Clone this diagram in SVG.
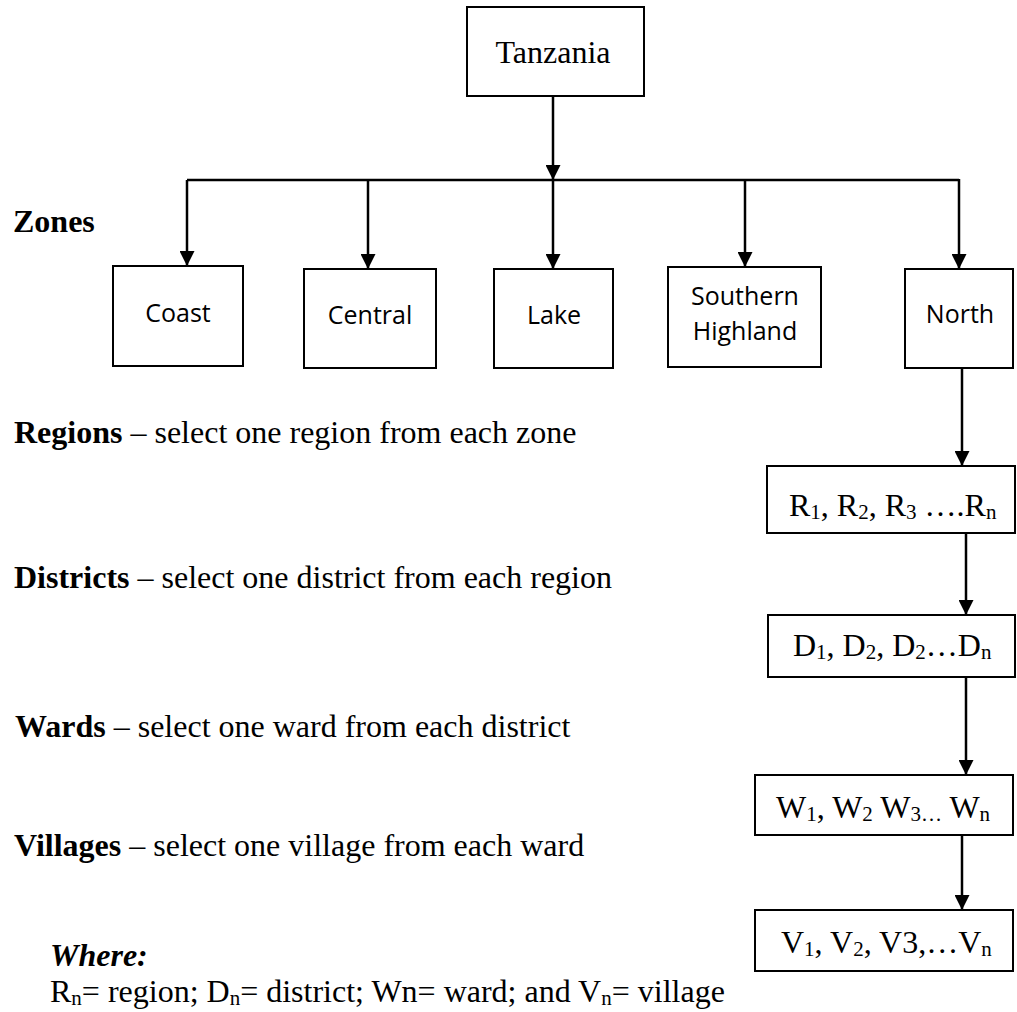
<svg xmlns="http://www.w3.org/2000/svg" width="1017" height="1012" viewBox="0 0 1017 1012">
<defs>
<marker id="ah" markerUnits="userSpaceOnUse" markerWidth="15" markerHeight="15" refX="15" refY="7.5" orient="auto" viewBox="0 0 15 15">
<path d="M0,0 L15,7.5 L0,15 Z" fill="#000"/>
</marker>
<style>
.box{fill:#fff;stroke:#000;stroke-width:2}
.ser{font-family:"Liberation Serif","Times New Roman",serif;font-size:32px;fill:#000}
.lbl{font-family:"Liberation Serif","Times New Roman",serif;font-size:32px;fill:#000}
.san{font-family:"Open Sans","Liberation Sans",sans-serif;font-size:25px;fill:#000;text-anchor:middle}
.con{stroke:#000;stroke-width:2.5;fill:none}
.arr{stroke:#000;stroke-width:2.5;fill:none;marker-end:url(#ah)}
</style>
</defs>
<rect width="1017" height="1012" fill="#fff"/>

<g id="connectors">
<line class="arr" x1="553" y1="96" x2="553" y2="180"/>
<line class="con" x1="187" y1="180" x2="959" y2="180"/>
<line class="arr" x1="187" y1="180" x2="187" y2="266"/>
<line class="arr" x1="368" y1="180" x2="368" y2="269"/>
<line class="arr" x1="553" y1="180" x2="553" y2="269"/>
<line class="arr" x1="745" y1="180" x2="745" y2="267"/>
<line class="arr" x1="959" y1="179" x2="959" y2="269"/>
<line class="arr" x1="962" y1="368" x2="962" y2="466"/>
<line class="arr" x1="966" y1="533" x2="966" y2="615"/>
<line class="arr" x1="966" y1="677" x2="966" y2="775"/>
<line class="arr" x1="962" y1="835" x2="962" y2="910"/>
</g>

<g id="tanzania">
<rect class="box" x="467" y="7" width="177" height="89"/>
<text class="ser" x="553" y="63" text-anchor="middle">Tanzania</text>
</g>

<g id="coast">
<rect class="box" x="113" y="266" width="130" height="100"/>
<text class="san" x="178" y="322">Coast</text>
</g>
<g id="central">
<rect class="box" x="304" y="269" width="132" height="99"/>
<text class="san" x="370" y="324">Central</text>
</g>
<g id="lake">
<rect class="box" x="494" y="269" width="119" height="99"/>
<text class="san" x="554" y="324">Lake</text>
</g>
<g id="southern-highland">
<rect class="box" x="668" y="267" width="153" height="100"/>
<text class="san" x="745" y="305">Southern</text>
<text class="san" x="745" y="340">Highland</text>
</g>
<g id="north">
<rect class="box" x="905" y="269" width="108" height="99"/>
<text class="san" x="960" y="323">North</text>
</g>

<g id="regions-box">
<rect class="box" x="767" y="466" width="248" height="67"/>
<text class="ser" x="789" y="516">R<tspan font-size="21" dy="3">1</tspan><tspan dy="-3">, R</tspan><tspan font-size="21" dy="3">2</tspan><tspan dy="-3">, R</tspan><tspan font-size="21" dy="3">3</tspan><tspan dy="-3"> ….R</tspan><tspan font-size="21" dy="3">n</tspan></text>
</g>
<g id="districts-box">
<rect class="box" x="768" y="615" width="247" height="62"/>
<text class="ser" x="793" y="656">D<tspan font-size="21" dy="3">1</tspan><tspan dy="-3">, D</tspan><tspan font-size="21" dy="3">2</tspan><tspan dy="-3">, D</tspan><tspan font-size="21" dy="3">2</tspan><tspan dy="-3">…D</tspan><tspan font-size="21" dy="3">n</tspan></text>
</g>
<g id="wards-box">
<rect class="box" x="755" y="775" width="258" height="60"/>
<text class="ser" x="776" y="818">W<tspan font-size="21" dy="3">1</tspan><tspan dy="-3">, W</tspan><tspan font-size="21" dy="3">2</tspan><tspan dy="-3"> W</tspan><tspan font-size="21" dy="3">3…</tspan><tspan dy="-3"> W</tspan><tspan font-size="21" dy="3">n</tspan></text>
</g>
<g id="villages-box">
<rect class="box" x="755" y="910" width="258" height="61"/>
<text class="ser" x="781" y="953">V<tspan font-size="21" dy="3">1</tspan><tspan dy="-3">, V</tspan><tspan font-size="21" dy="3">2</tspan><tspan dy="-3">, V3,…V</tspan><tspan font-size="21" dy="3">n</tspan></text>
</g>

<g id="labels">
<text class="lbl" x="13" y="232" font-weight="bold">Zones</text>
<text class="lbl" x="14" y="443"><tspan font-weight="bold">Regions</tspan> – select one region from each zone</text>
<text class="lbl" x="14" y="588"><tspan font-weight="bold">Districts</tspan> – select one district from each region</text>
<text class="lbl" x="15" y="737"><tspan font-weight="bold">Wards</tspan> – select one ward from each district</text>
<text class="lbl" x="14" y="856"><tspan font-weight="bold">Villages</tspan> – select one village from each ward</text>
<text class="lbl" x="50" y="966" font-weight="bold" font-style="italic">Where:</text>
<text class="lbl" x="50" y="1002">R<tspan font-size="21" dy="3">n</tspan><tspan dy="-3">= region; D</tspan><tspan font-size="21" dy="3">n</tspan><tspan dy="-3">= district; Wn= ward; and V</tspan><tspan font-size="21" dy="3">n</tspan><tspan dy="-3">= village</tspan></text>
</g>
</svg>
